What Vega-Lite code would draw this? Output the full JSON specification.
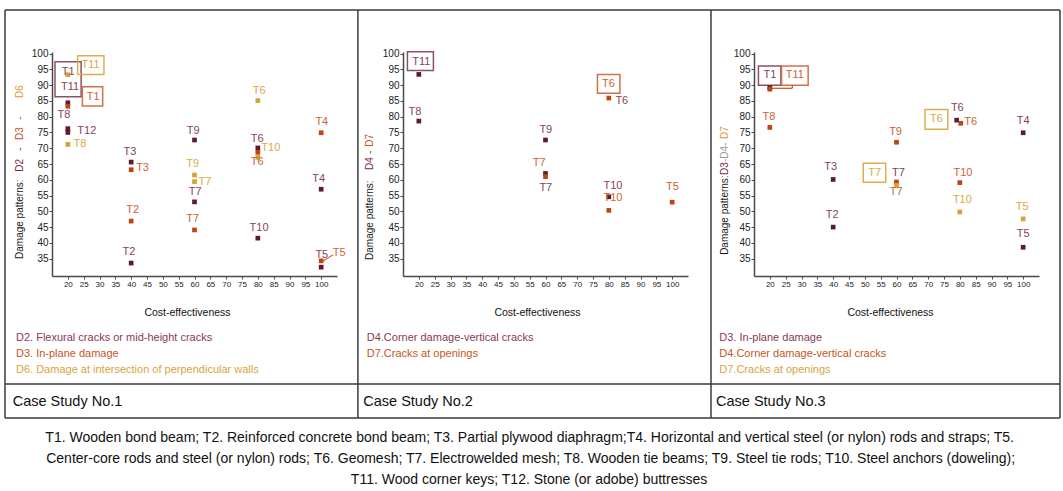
{
  "$schema": "https://vega.github.io/schema/vega-lite/v6.json",
  "padding": {"left": 4, "top": 9, "right": 0, "bottom": 0},
  "background": "white",
  "spacing": 66,
  "bounds": "flush",
  "config": {
    "view": {"stroke": null},
    "axis": {"grid": false, "domainColor": "#4a4a4a", "domainWidth": 1.5, "tickColor": "#4a4a4a", "tickSize": 3, "labelColor": "#222", "labelFont": "Liberation Sans"}
  },
  "datasets": {
    "pts": [
      {"panel":1,"rank":3,"x":20,"y":93.3},{"panel":1,"rank":1,"x":20,"y":84.4},{"panel":1,"rank":2,"x":20,"y":83.3},
      {"panel":1,"rank":1,"x":20,"y":76.2},{"panel":1,"rank":1,"x":20,"y":75},{"panel":1,"rank":3,"x":20,"y":71.2},
      {"panel":1,"rank":1,"x":40,"y":65.6},{"panel":1,"rank":2,"x":40,"y":63.2},{"panel":1,"rank":2,"x":40,"y":46.9},
      {"panel":1,"rank":1,"x":40,"y":33.6},{"panel":1,"rank":3,"x":80,"y":85.1},{"panel":1,"rank":2,"x":100,"y":74.9},
      {"panel":1,"rank":1,"x":60,"y":72.6},{"panel":1,"rank":1,"x":80,"y":70.1},{"panel":1,"rank":2,"x":80,"y":68.7},
      {"panel":1,"rank":3,"x":80,"y":67.1},{"panel":1,"rank":3,"x":60,"y":61.5},{"panel":1,"rank":3,"x":60,"y":59.4},
      {"panel":1,"rank":1,"x":60,"y":53},{"panel":1,"rank":2,"x":60,"y":44.1},{"panel":1,"rank":1,"x":80,"y":41.5},
      {"panel":1,"rank":1,"x":100,"y":57},{"panel":1,"rank":1,"x":100,"y":32.3},{"panel":1,"rank":2,"x":100,"y":34.3},
      {"panel":2,"rank":1,"x":20,"y":93.4},{"panel":2,"rank":1,"x":20,"y":78.6},{"panel":2,"rank":2,"x":80,"y":85.9},
      {"panel":2,"rank":1,"x":60,"y":72.6},{"panel":2,"rank":1,"x":60,"y":62},{"panel":2,"rank":2,"x":60,"y":61},
      {"panel":2,"rank":1,"x":80,"y":54.6},{"panel":2,"rank":2,"x":80,"y":50.3},{"panel":2,"rank":2,"x":100,"y":52.9},
      {"panel":3,"rank":1,"x":20,"y":89.2},{"panel":3,"rank":2,"x":20,"y":88.7},{"panel":3,"rank":2,"x":20,"y":76.6},
      {"panel":3,"rank":1,"x":40,"y":60.1},{"panel":3,"rank":1,"x":40,"y":45},{"panel":3,"rank":2,"x":60,"y":71.9},
      {"panel":3,"rank":1,"x":79,"y":78.9},{"panel":3,"rank":2,"x":80.3,"y":77.9},{"panel":3,"rank":1,"x":100,"y":74.9},
      {"panel":3,"rank":2,"x":60,"y":59.3},{"panel":3,"rank":3,"x":60,"y":58.2},{"panel":3,"rank":2,"x":80,"y":59.1},
      {"panel":3,"rank":3,"x":80,"y":49.8},{"panel":3,"rank":3,"x":100,"y":47.6},{"panel":3,"rank":1,"x":100,"y":38.6}
    ],
    "labels": [
      {"panel":1,"rank":1,"x":20.1,"y":94.1,"t":"T1"},{"panel":1,"rank":1,"x":20.7,"y":89.5,"t":"T11"},
      {"panel":1,"rank":3,"x":27.2,"y":96.4,"t":"T11"},{"panel":1,"rank":2,"x":28.0,"y":86.3,"t":"T1"},
      {"panel":1,"rank":1,"x":18.8,"y":80.5,"t":"T8"},{"panel":1,"rank":1,"x":26,"y":75.6,"t":"T12"},
      {"panel":1,"rank":3,"x":23.8,"y":71.2,"t":"T8"},{"panel":1,"rank":1,"x":39.6,"y":68.7,"t":"T3"},
      {"panel":1,"rank":2,"x":43.6,"y":63.6,"t":"T3"},{"panel":1,"rank":2,"x":40.5,"y":50.4,"t":"T2"},
      {"panel":1,"rank":1,"x":39.3,"y":37.0,"t":"T2"},{"panel":1,"rank":3,"x":80.4,"y":88.2,"t":"T6"},
      {"panel":1,"rank":2,"x":100.2,"y":78.2,"t":"T4"},{"panel":1,"rank":1,"x":59.6,"y":75.6,"t":"T9"},
      {"panel":1,"rank":1,"x":79.8,"y":72.9,"t":"T6"},{"panel":1,"rank":3,"x":84.1,"y":70.0,"t":"T10"},
      {"panel":1,"rank":2,"x":79.8,"y":65.5,"t":"T6"},{"panel":1,"rank":3,"x":59.4,"y":65.0,"t":"T9"},
      {"panel":1,"rank":3,"x":63.3,"y":59.2,"t":"T7"},{"panel":1,"rank":1,"x":60.2,"y":56.0,"t":"T7"},
      {"panel":1,"rank":2,"x":59.4,"y":47.6,"t":"T7"},{"panel":1,"rank":1,"x":80.4,"y":44.6,"t":"T10"},
      {"panel":1,"rank":1,"x":99.2,"y":60.3,"t":"T4"},{"panel":1,"rank":1,"x":100.2,"y":36.2,"t":"T5"},
      {"panel":1,"rank":2,"x":105.7,"y":36.7,"t":"T5"},
      {"panel":2,"rank":1,"x":20.8,"y":97.4,"t":"T11"},{"panel":2,"rank":1,"x":18.8,"y":81.6,"t":"T8"},
      {"panel":2,"rank":2,"x":79.9,"y":90.3,"t":"T6"},{"panel":2,"rank":1,"x":84.1,"y":84.9,"t":"T6"},
      {"panel":2,"rank":1,"x":60.1,"y":75.8,"t":"T9"},{"panel":2,"rank":2,"x":58.0,"y":65.2,"t":"T7"},
      {"panel":2,"rank":1,"x":60.1,"y":57.5,"t":"T7"},{"panel":2,"rank":1,"x":81.3,"y":58.0,"t":"T10"},
      {"panel":2,"rank":2,"x":81.3,"y":54.1,"t":"T10"},{"panel":2,"rank":2,"x":100.1,"y":57.8,"t":"T5"},
      {"panel":3,"rank":1,"x":20.05,"y":93.2,"t":"T1"},{"panel":3,"rank":2,"x":27.9,"y":93.2,"t":"T11"},
      {"panel":3,"rank":2,"x":19.7,"y":79.8,"t":"T8"},{"panel":3,"rank":1,"x":39.2,"y":64.1,"t":"T3"},
      {"panel":3,"rank":1,"x":39.7,"y":48.8,"t":"T2"},{"panel":3,"rank":3,"x":53.1,"y":62.1,"t":"T7"},
      {"panel":3,"rank":2,"x":59.7,"y":75.0,"t":"T9"},{"panel":3,"rank":3,"x":72.6,"y":79.3,"t":"T6"},
      {"panel":3,"rank":1,"x":79.2,"y":82.7,"t":"T6"},{"panel":3,"rank":2,"x":83.4,"y":78.2,"t":"T6"},
      {"panel":3,"rank":1,"x":100.0,"y":78.7,"t":"T4"},{"panel":3,"rank":1,"x":60.6,"y":62.1,"t":"T7"},
      {"panel":3,"rank":2,"x":59.9,"y":56.0,"t":"T7"},{"panel":3,"rank":2,"x":81.0,"y":62.1,"t":"T10"},
      {"panel":3,"rank":3,"x":80.8,"y":53.6,"t":"T10"},{"panel":3,"rank":3,"x":99.7,"y":51.3,"t":"T5"},
      {"panel":3,"rank":1,"x":100.0,"y":42.8,"t":"T5"}
    ],
    "boxes": [
      {"panel":1,"rank":1,"x":15.95,"x2":24.2,"y":97.4,"y2":86.3},
      {"panel":1,"rank":3,"x":23.1,"x2":31.4,"y":99.3,"y2":93.4},
      {"panel":1,"rank":2,"x":24.6,"x2":31.0,"y":89.5,"y2":83.4},
      {"panel":2,"rank":1,"x":16.4,"x2":24.6,"y":100.6,"y2":94.6},
      {"panel":2,"rank":2,"x":76.4,"x2":83.5,"y":93.4,"y2":87.4},
      {"panel":3,"rank":1,"x":16.4,"x2":23.5,"y":96.1,"y2":90.0},
      {"panel":3,"rank":2,"x":23.7,"x2":32.1,"y":96.1,"y2":90.0},
      {"panel":3,"rank":3,"x":49.5,"x2":56.6,"y":65.2,"y2":59.2},
      {"panel":3,"rank":3,"x":69.0,"x2":76.2,"y":82.3,"y2":76.0}
    ],
    "links": [
      {"panel":1,"rank":2,"x":100.2,"x2":103.8,"y":34.0,"y2":36.2},
      {"panel":3,"rank":2,"x":20.3,"x2":27.1,"y":89.0,"y2":89.0},
      {"panel":3,"rank":2,"x":27.1,"x2":27.1,"y":89.0,"y2":90.0}
    ],
    "borders": [
      {"panel":1,"x":0.16,"x2":0.16,"y":113.8,"y2":-15.5},
      {"panel":1,"x":0.16,"x2":111.6,"y":113.8,"y2":113.8},
      {"panel":1,"x":0.16,"x2":111.6,"y":-4.73,"y2":-4.73},
      {"panel":1,"x":0.16,"x2":111.6,"y":-15.5,"y2":-15.5},
      {"panel":1,"x":111.6,"x2":111.6,"y":113.8,"y2":-15.5},
      {"panel":2,"x":0.79,"x2":112.26,"y":113.8,"y2":113.8},
      {"panel":2,"x":0.79,"x2":112.26,"y":-4.73,"y2":-4.73},
      {"panel":2,"x":0.79,"x2":112.26,"y":-15.5,"y2":-15.5},
      {"panel":2,"x":112.26,"x2":112.26,"y":113.8,"y2":-15.5},
      {"panel":3,"x":1.42,"x2":111.63,"y":113.8,"y2":113.8},
      {"panel":3,"x":1.42,"x2":111.63,"y":-4.73,"y2":-4.73},
      {"panel":3,"x":1.42,"x2":111.63,"y":-15.5,"y2":-15.5},
      {"panel":3,"x":111.63,"x2":111.63,"y":113.8,"y2":-15.5}
    ],
    "ytitle": [
      {"panel":1,"tone":0,"x":4.9,"y":34.9,"t":"Damage patterns:"},
      {"panel":1,"tone":1,"x":4.9,"y":62.56,"t":"D2"},
      {"panel":1,"tone":1,"x":4.9,"y":69.2,"t":"-"},
      {"panel":1,"tone":2,"x":4.9,"y":72.6,"t":"D3"},
      {"panel":1,"tone":2,"x":4.9,"y":79.0,"t":"-"},
      {"panel":1,"tone":3,"x":4.9,"y":85.92,"t":"D6"},
      {"panel":2,"tone":0,"x":4.6,"y":34.6,"t":"Damage patterns:"},
      {"panel":2,"tone":1,"x":4.6,"y":63.1,"t":"D4"},
      {"panel":2,"tone":1,"x":4.6,"y":68.2,"t":"-"},
      {"panel":2,"tone":2,"x":4.6,"y":70.5,"t":"D7"},
      {"panel":3,"tone":0,"x":5.8,"y":36.2,"t":"Damage patterns:"},
      {"panel":3,"tone":1,"x":5.8,"y":61.5,"t":"D3"},
      {"panel":3,"tone":4,"x":5.8,"y":65.6,"t":"-D4-"},
      {"panel":3,"tone":3,"x":5.8,"y":72.9,"t":"D7"}
    ],
    "legend": [
      {"panel":1,"rank":1,"x":3.63,"y":9.85,"t":"D2. Flexural cracks or mid-height cracks"},
      {"panel":1,"rank":2,"x":3.63,"y":4.78,"t":"D3. In-plane damage"},
      {"panel":1,"rank":3,"x":3.63,"y":-0.29,"t":"D6. Damage at intersection of perpendicular walls"},
      {"panel":2,"rank":1,"x":3.54,"y":9.85,"t":"D4.Corner damage-vertical cracks"},
      {"panel":2,"rank":2,"x":3.54,"y":4.78,"t":"D7.Cracks at openings"},
      {"panel":3,"rank":1,"x":4.04,"y":9.85,"t":"D3. In-plane damage"},
      {"panel":3,"rank":2,"x":4.04,"y":4.78,"t":"D4.Corner damage-vertical cracks"},
      {"panel":3,"rank":3,"x":4.04,"y":-0.29,"t":"D7.Cracks at openings"}
    ],
    "cases": [
      {"panel":1,"x":2.59,"y":-10.34,"t":"Case Study No.1"},
      {"panel":2,"x":2.46,"y":-10.34,"t":"Case Study No.2"},
      {"panel":3,"x":3.0,"y":-10.34,"t":"Case Study No.3"}
    ],
    "notes": [
      {"panel":2,"x":55.0,"y":-21.85,"t":"T1. Wooden bond beam; T2. Reinforced concrete bond beam; T3. Partial plywood diaphragm;T4. Horizontal and vertical steel (or nylon) rods and straps;  T5."},
      {"panel":2,"x":55.3,"y":-28.5,"t":"Center-core rods and steel (or nylon) rods; T6. Geomesh;  T7. Electrowelded mesh; T8. Wooden tie beams; T9. Steel tie rods; T10. Steel anchors (doweling);"},
      {"panel":2,"x":54.8,"y":-35.16,"t":"T11. Wood corner keys; T12. Stone (or adobe) buttresses"}
    ]
  },
  "hconcat": [
    {
      "width": 285, "height": 224,
      "encoding": {
        "x": {"field": "x", "type": "quantitative", "scale": {"domain": [15, 105], "nice": false, "zero": false},
              "axis": {"values": [20,25,30,35,40,45,50,55,60,65,70,75,80,85,90,95,100], "labelFontSize": 8, "labelPadding": 1, "title": "Cost-effectiveness", "titleFont": "Liberation Sans", "titleFontSize": 10.5, "titleFontWeight": "normal", "titleColor": "#111", "titlePadding": 19, "titleX": 135}},
        "y": {"field": "y", "type": "quantitative", "scale": {"domain": [29.5, 100.5], "nice": false, "zero": false},
              "axis": {"values": [35,40,45,50,55,60,65,70,75,80,85,90,95,100], "labelFontSize": 10, "labelPadding": 1, "title": null}}
      },
      "layer": [
        {"data": {"name": "borders"}, "transform": [{"filter": "datum.panel == 1"}], "mark": {"type": "rule", "color": "#3a3a3a", "strokeWidth": 1.5}, "encoding": {"x2": {"field": "x2"}, "y2": {"field": "y2"}}},
        {"data": {"name": "boxes"}, "transform": [{"filter": "datum.panel == 1"}], "mark": {"type": "rect", "fillOpacity": 0, "strokeWidth": 1.5}, "encoding": {"x2": {"field": "x2"}, "y2": {"field": "y2"}, "stroke": {"field": "rank", "type": "nominal", "scale": {"domain": [1,2,3], "range": ["#8c5262", "#d27047", "#dcb050"]}, "legend": null}}},
        {"data": {"name": "links"}, "transform": [{"filter": "datum.panel == 1"}], "mark": {"type": "rule", "strokeWidth": 1.2}, "encoding": {"x2": {"field": "x2"}, "y2": {"field": "y2"}, "color": {"field": "rank", "type": "nominal", "scale": {"domain": [1,2,3], "range": ["#8c5262", "#d27047", "#dcb050"]}, "legend": null}}},
        {"data": {"name": "pts"}, "transform": [{"filter": "datum.panel == 1"}], "mark": {"type": "square", "size": 22, "opacity": 1}, "encoding": {"color": {"field": "rank", "type": "nominal", "scale": {"domain": [1,2,3], "range": ["#5e1a30", "#bf4510", "#d6a135"]}, "legend": null}}},
        {"data": {"name": "labels"}, "transform": [{"filter": "datum.panel == 1"}], "mark": {"type": "text", "font": "Liberation Sans", "fontSize": 11, "baseline": "middle"}, "encoding": {"text": {"field": "t"}, "color": {"field": "rank", "type": "nominal", "scale": {"domain": [1,2,3], "range": ["#874456", "#cc6335", "#dba84a"]}, "legend": null}}},
        {"data": {"name": "ytitle"}, "transform": [{"filter": "datum.panel == 1"}], "mark": {"type": "text", "font": "Liberation Sans", "fontSize": 10, "angle": 270, "align": "left", "baseline": "middle"}, "encoding": {"text": {"field": "t"}, "color": {"field": "tone", "type": "nominal", "scale": {"domain": [0,1,2,3,4], "range": ["#1a1a1a", "#7d2e46", "#c8501e", "#d9a030", "#9a9a9a"]}, "legend": null}}},
        {"data": {"name": "legend"}, "transform": [{"filter": "datum.panel == 1"}], "mark": {"type": "text", "font": "Liberation Sans", "fontSize": 11, "align": "left", "baseline": "middle"}, "encoding": {"text": {"field": "t"}, "color": {"field": "rank", "type": "nominal", "scale": {"domain": [1,2,3], "range": ["#8a3a52", "#c65523", "#d9a53a"]}, "legend": null}}},
        {"data": {"name": "cases"}, "transform": [{"filter": "datum.panel == 1"}], "mark": {"type": "text", "font": "Liberation Sans", "fontSize": 14.5, "align": "left", "baseline": "middle", "color": "#111"}, "encoding": {"text": {"field": "t"}}}
      ],
      "resolve": {"scale": {"color": "independent"}}
    },
    {
      "width": 285, "height": 224,
      "encoding": {
        "x": {"field": "x", "type": "quantitative", "scale": {"domain": [15, 105], "nice": false, "zero": false},
              "axis": {"values": [20,25,30,35,40,45,50,55,60,65,70,75,80,85,90,95,100], "labelFontSize": 8, "labelPadding": 1, "title": "Cost-effectiveness", "titleFont": "Liberation Sans", "titleFontSize": 10.5, "titleFontWeight": "normal", "titleColor": "#111", "titlePadding": 19, "titleX": 134}},
        "y": {"field": "y", "type": "quantitative", "scale": {"domain": [29.5, 100.5], "nice": false, "zero": false},
              "axis": {"values": [35,40,45,50,55,60,65,70,75,80,85,90,95,100], "labelFontSize": 10, "labelPadding": 1, "title": null}}
      },
      "layer": [
        {"data": {"name": "borders"}, "transform": [{"filter": "datum.panel == 2"}], "mark": {"type": "rule", "color": "#3a3a3a", "strokeWidth": 1.5}, "encoding": {"x2": {"field": "x2"}, "y2": {"field": "y2"}}},
        {"data": {"name": "boxes"}, "transform": [{"filter": "datum.panel == 2"}], "mark": {"type": "rect", "fillOpacity": 0, "strokeWidth": 1.5}, "encoding": {"x2": {"field": "x2"}, "y2": {"field": "y2"}, "stroke": {"field": "rank", "type": "nominal", "scale": {"domain": [1,2,3], "range": ["#8c5262", "#d27047", "#dcb050"]}, "legend": null}}},
        {"data": {"name": "pts"}, "transform": [{"filter": "datum.panel == 2"}], "mark": {"type": "square", "size": 22, "opacity": 1}, "encoding": {"color": {"field": "rank", "type": "nominal", "scale": {"domain": [1,2,3], "range": ["#5e1a30", "#bf4510", "#d6a135"]}, "legend": null}}},
        {"data": {"name": "labels"}, "transform": [{"filter": "datum.panel == 2"}], "mark": {"type": "text", "font": "Liberation Sans", "fontSize": 11, "baseline": "middle"}, "encoding": {"text": {"field": "t"}, "color": {"field": "rank", "type": "nominal", "scale": {"domain": [1,2,3], "range": ["#874456", "#cc6335", "#dba84a"]}, "legend": null}}},
        {"data": {"name": "ytitle"}, "transform": [{"filter": "datum.panel == 2"}], "mark": {"type": "text", "font": "Liberation Sans", "fontSize": 10, "angle": 270, "align": "left", "baseline": "middle"}, "encoding": {"text": {"field": "t"}, "color": {"field": "tone", "type": "nominal", "scale": {"domain": [0,1,2,3,4], "range": ["#1a1a1a", "#7d2e46", "#c8501e", "#d9a030", "#9a9a9a"]}, "legend": null}}},
        {"data": {"name": "legend"}, "transform": [{"filter": "datum.panel == 2"}], "mark": {"type": "text", "font": "Liberation Sans", "fontSize": 11, "align": "left", "baseline": "middle"}, "encoding": {"text": {"field": "t"}, "color": {"field": "rank", "type": "nominal", "scale": {"domain": [1,2,3], "range": ["#8a3a52", "#c65523", "#d9a53a"]}, "legend": null}}},
        {"data": {"name": "cases"}, "transform": [{"filter": "datum.panel == 2"}], "mark": {"type": "text", "font": "Liberation Sans", "fontSize": 14.5, "align": "left", "baseline": "middle", "color": "#111"}, "encoding": {"text": {"field": "t"}}},
        {"data": {"name": "notes"}, "transform": [{"filter": "datum.panel == 2"}], "mark": {"type": "text", "font": "Liberation Sans", "fontSize": 14, "align": "center", "baseline": "middle", "color": "#111"}, "encoding": {"text": {"field": "t"}}}
      ],
      "resolve": {"scale": {"color": "independent"}}
    },
    {
      "width": 285, "height": 224,
      "encoding": {
        "x": {"field": "x", "type": "quantitative", "scale": {"domain": [15, 105], "nice": false, "zero": false},
              "axis": {"values": [20,25,30,35,40,45,50,55,60,65,70,75,80,85,90,95,100], "labelFontSize": 8, "labelPadding": 1, "title": "Cost-effectiveness", "titleFont": "Liberation Sans", "titleFontSize": 10.5, "titleFontWeight": "normal", "titleColor": "#111", "titlePadding": 19, "titleX": 136}},
        "y": {"field": "y", "type": "quantitative", "scale": {"domain": [29.5, 100.5], "nice": false, "zero": false},
              "axis": {"values": [35,40,45,50,55,60,65,70,75,80,85,90,95,100], "labelFontSize": 10, "labelPadding": 1, "title": null}}
      },
      "layer": [
        {"data": {"name": "borders"}, "transform": [{"filter": "datum.panel == 3"}], "mark": {"type": "rule", "color": "#3a3a3a", "strokeWidth": 1.5}, "encoding": {"x2": {"field": "x2"}, "y2": {"field": "y2"}}},
        {"data": {"name": "boxes"}, "transform": [{"filter": "datum.panel == 3"}], "mark": {"type": "rect", "fillOpacity": 0, "strokeWidth": 1.5}, "encoding": {"x2": {"field": "x2"}, "y2": {"field": "y2"}, "stroke": {"field": "rank", "type": "nominal", "scale": {"domain": [1,2,3], "range": ["#8c5262", "#d27047", "#dcb050"]}, "legend": null}}},
        {"data": {"name": "links"}, "transform": [{"filter": "datum.panel == 3"}], "mark": {"type": "rule", "strokeWidth": 1.2}, "encoding": {"x2": {"field": "x2"}, "y2": {"field": "y2"}, "color": {"field": "rank", "type": "nominal", "scale": {"domain": [1,2,3], "range": ["#8c5262", "#c8501e", "#dcb050"]}, "legend": null}}},
        {"data": {"name": "pts"}, "transform": [{"filter": "datum.panel == 3"}], "mark": {"type": "square", "size": 22, "opacity": 1}, "encoding": {"color": {"field": "rank", "type": "nominal", "scale": {"domain": [1,2,3], "range": ["#5e1a30", "#bf4510", "#d6a135"]}, "legend": null}}},
        {"data": {"name": "labels"}, "transform": [{"filter": "datum.panel == 3"}], "mark": {"type": "text", "font": "Liberation Sans", "fontSize": 11, "baseline": "middle"}, "encoding": {"text": {"field": "t"}, "color": {"field": "rank", "type": "nominal", "scale": {"domain": [1,2,3], "range": ["#874456", "#cc6335", "#dba84a"]}, "legend": null}}},
        {"data": {"name": "ytitle"}, "transform": [{"filter": "datum.panel == 3"}], "mark": {"type": "text", "font": "Liberation Sans", "fontSize": 10, "angle": 270, "align": "left", "baseline": "middle"}, "encoding": {"text": {"field": "t"}, "color": {"field": "tone", "type": "nominal", "scale": {"domain": [0,1,2,3,4], "range": ["#1a1a1a", "#7d2e46", "#c8501e", "#d9a030", "#9a9a9a"]}, "legend": null}}},
        {"data": {"name": "legend"}, "transform": [{"filter": "datum.panel == 3"}], "mark": {"type": "text", "font": "Liberation Sans", "fontSize": 11, "align": "left", "baseline": "middle"}, "encoding": {"text": {"field": "t"}, "color": {"field": "rank", "type": "nominal", "scale": {"domain": [1,2,3], "range": ["#8a3a52", "#c65523", "#d9a53a"]}, "legend": null}}},
        {"data": {"name": "cases"}, "transform": [{"filter": "datum.panel == 3"}], "mark": {"type": "text", "font": "Liberation Sans", "fontSize": 14.5, "align": "left", "baseline": "middle", "color": "#111"}, "encoding": {"text": {"field": "t"}}}
      ],
      "resolve": {"scale": {"color": "independent"}}
    }
  ]
}
